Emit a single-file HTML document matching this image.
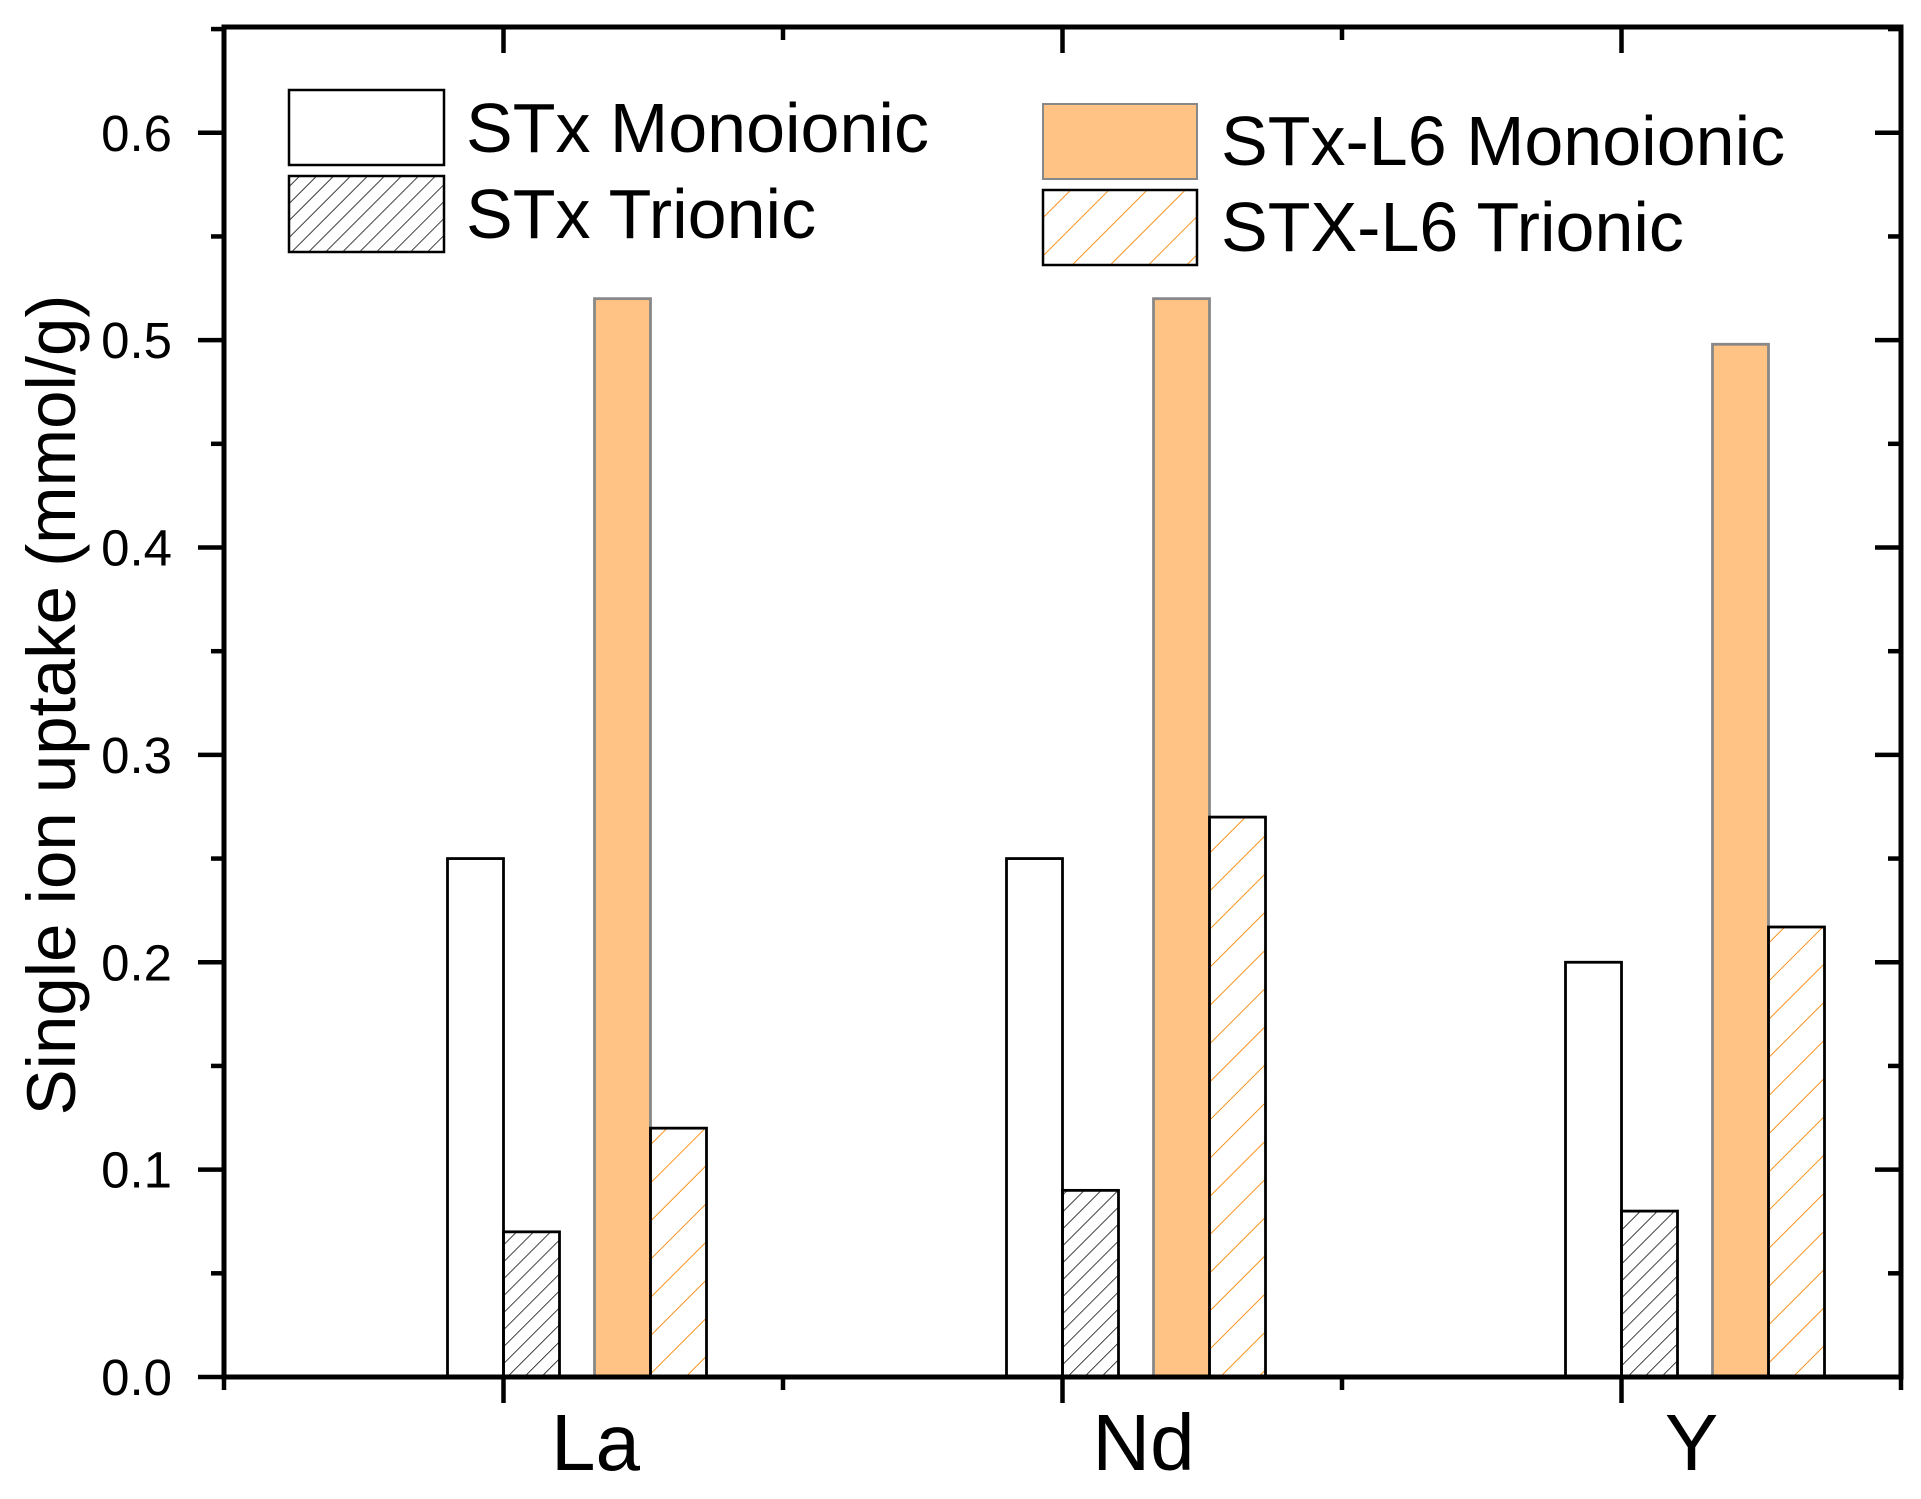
<!DOCTYPE html>
<html><head><meta charset="utf-8"><style>
html,body{margin:0;padding:0;background:#fff;}
svg{display:block;font-family:"Liberation Sans",Arial,sans-serif;}
</style></head><body>
<svg id="chart" width="1921" height="1499" viewBox="0 0 1921 1499" xmlns="http://www.w3.org/2000/svg">
<defs>
<pattern id="hatchK" patternUnits="userSpaceOnUse" width="12" height="12" patternTransform="rotate(45)">
<line x1="0" y1="0" x2="0" y2="12" stroke="#000" stroke-width="1.5"/></pattern>
<pattern id="hatchO" patternUnits="userSpaceOnUse" width="27" height="27" patternTransform="rotate(45)">
<line x1="0" y1="0" x2="0" y2="27" stroke="#F7931E" stroke-width="2"/></pattern>
</defs>
<g id="marks"></g>
<g id="axes"></g>
<g id="legend">
<rect x="289" y="90" width="155" height="75" fill="#fff" stroke="#000" stroke-width="2.5"/>
<text x="466" y="152" font-size="70">STx Monoionic</text>
<rect x="289" y="176" width="155" height="76" fill="url(#hatchK)" stroke="#000" stroke-width="2.5"/>
<text x="466" y="238" font-size="70">STx Trionic</text>
<rect x="1043" y="104" width="154" height="75" fill="#FFC385" stroke="#888" stroke-width="2"/>
<text x="1221" y="165" font-size="70">STx-L6 Monoionic</text>
<rect x="1043" y="190" width="154" height="75" fill="url(#hatchO)" stroke="#000" stroke-width="2.5"/>
<text x="1221" y="251" font-size="70">STX-L6 Trionic</text>
</g>
</svg>
<script>
const categories = ["La", "Nd", "Y"];
const stxMono = [0.25, 0.25, 0.20];
const stxTri = [0.07, 0.09, 0.08];
const l6Mono = [0.52, 0.52, 0.498];
const l6Tri = [0.12, 0.27, 0.217];
const yTicks = [0.0, 0.1, 0.2, 0.3, 0.4, 0.5, 0.6];
const yTickLabels = ["0.0", "0.1", "0.2", "0.3", "0.4", "0.5", "0.6"];

const NS = "http://www.w3.org/2000/svg";
const L = 224, R = 1901, T = 27, B = 1377;
const yMax = 0.651;
function yS(v){ return B - v / yMax * (B - T); }
function xS(i){ return L + (i + 0.5) / categories.length * (R - L); }
const bw = 56;
function mk(tag, attrs, parent){ const e = document.createElementNS(NS, tag); for (const k in attrs) e.setAttribute(k, attrs[k]); parent.appendChild(e); return e; }
const marks = document.getElementById('marks');
const axes = document.getElementById('axes');
const series = [
 {vals: stxMono, off: -bw, fill: "#fff", stroke: "#000", name: "bar-stx-monoionic"},
 {vals: stxTri, off: 0, fill: "url(#hatchK)", stroke: "#000", name: "bar-stx-trionic"},
 {vals: l6Mono, off: 91, fill: "#FFC385", stroke: "#888", name: "bar-stx-l6-monoionic"},
 {vals: l6Tri, off: 147, fill: "url(#hatchO)", stroke: "#000", name: "bar-stx-l6-trionic"}
];
series.forEach(s => {
  s.vals.forEach((v, i) => {
    const x = xS(i) + s.off, y = yS(v);
    const r = mk('rect', {x: x, y: y, width: bw, height: B - y, fill: s.fill, stroke: s.stroke, 'stroke-width': 2.8}, marks);
    
    
  });
});
const fr = mk('rect', {x: L, y: T, width: R - L, height: B - T, fill: "none", stroke: "#000", 'stroke-width': 5}, axes);


for (let k = 0; k <= 13; k++) {
  const v = k * 0.05; const y = yS(v); const major = k % 2 === 0;
  const len = major ? 26 : 13;
  const t1 = mk('line', {x1: L - len, y1: y, x2: L, y2: y, stroke: "#000", 'stroke-width': 4.5}, axes);
  
  
  const t2 = mk('line', {x1: R - len, y1: y, x2: R, y2: y, stroke: "#000", 'stroke-width': 4.5}, axes);
  
  
}
yTicks.forEach((v, i) => {
  const t = mk('text', {x: 172, y: yS(v) + 18, 'font-size': 51, 'text-anchor': 'end'}, axes);
  t.textContent = yTickLabels[i];
  
  
});
for (let k = 0; k <= 2 * categories.length; k++) {
  const x = L + k / (2 * categories.length) * (R - L);
  const major = k % 2 === 1;
  const len = major ? 26 : 13;
  const b = mk('line', {x1: x, y1: B, x2: x, y2: B + len, stroke: "#000", 'stroke-width': 4.5}, axes);
  
  
  const t = mk('line', {x1: x, y1: T, x2: x, y2: T + len, stroke: "#000", 'stroke-width': 4.5}, axes);
  
  
}
categories.forEach((c, i) => {
  const t = mk('text', {x: xS(i) + 92 - 11 * i, y: 1470, 'font-size': 80, 'text-anchor': 'middle'}, axes);
  t.textContent = c;
  
  
});
const yt = mk('text', {x: 0, y: 0, 'font-size': 69, 'text-anchor': 'middle', transform: 'translate(75,705) rotate(-90)'}, axes);
yt.textContent = "Single ion uptake (mmol/g)";


</script>
</body></html>
